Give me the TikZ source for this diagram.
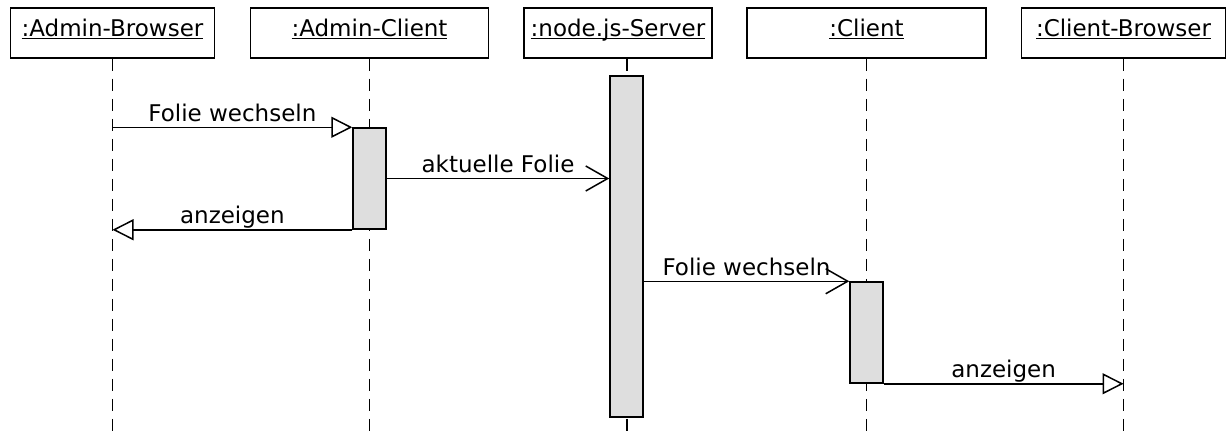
\documentclass[tikz,border=0pt]{standalone}
\usepackage{fontspec}
\setmainfont{DejaVu Sans}
\usetikzlibrary{arrows.meta}

\newcommand{\objname}[1]{\underline{\smash{#1}}}

\begin{document}
\begin{tikzpicture}[
  x=1pt,y=-1pt,
  font=\fontsize{23}{26}\selectfont,
  object/.style={draw,line width=1.5pt,rectangle,minimum height=50pt,inner sep=0pt,text height=17pt,text depth=10pt},
  activation/.style={draw,line width=1.5pt,rectangle,fill=black!13,minimum width=33pt,inner sep=0pt},
  lifeline/.style={line width=1.4pt,dash pattern=on 12pt off 8pt},
  syncMsg/.style={-{Triangle[open,length=21pt,width=21pt]},line width=1.5pt},
  asyncMsg/.style={-{Straight Barb[length=22pt,width=25pt]},line width=1.5pt},
  msgLabel/.style={anchor=base,yshift=6pt,inner sep=0pt}]

  \useasboundingbox (0,0) rectangle (1226,436);
  \coordinate (bottom) at (0,436);

  % objects
  \node[object,minimum width=204pt] (oAdminBrowser) at (112.5,33) {\objname{:Admin-Browser}};
  \node[object,minimum width=238pt] (oAdminClient) at (369.5,33) {\objname{:Admin-Client}};
  \node[object,minimum width=188pt] (oServer) at (618,33) {\objname{:node.js-Server}};
  \node[object,minimum width=239pt] (oClient) at (866.5,33) {\objname{:Client}};
  \node[object,minimum width=204pt] (oClientBrowser) at (1123.5,33) {\objname{:Client-Browser}};

  % lifelines
  \draw[lifeline] (oAdminBrowser.south) -- (oAdminBrowser.south |- bottom);
  \draw[lifeline] (oAdminClient.south) -- (oAdminClient.south |- bottom);
  \draw[lifeline] (oServer.south -| 627,0) -- (627,436);
  \draw[lifeline] (oClient.south) -- (oClient.south |- bottom);
  \draw[lifeline] (oClientBrowser.south) -- (oClientBrowser.south |- bottom);

  % activations
  \node[activation,minimum height=101pt] (aAdminClient) at (369.5,178.5) {};
  \node[activation,minimum height=341pt] (aServer) at (626.5,246.5) {};
  \node[activation,minimum height=101pt] (aClient) at (866.5,332.5) {};

  % messages
  \draw[syncMsg] (oAdminBrowser |- aAdminClient.north west) -- (aAdminClient.north west)
    node[msgLabel,midway] {Folie wechseln};
  \draw[asyncMsg] (aAdminClient.east) -- (aAdminClient.east -| aServer.west)
    node[msgLabel,midway] {aktuelle Folie};
  \draw[syncMsg] (aAdminClient.south west) -- (oAdminBrowser |- aAdminClient.south west)
    node[msgLabel,midway] {anzeigen};
  \draw[asyncMsg] (aServer.east |- aClient.north west) -- (aClient.north west)
    node[msgLabel,midway] {Folie wechseln};
  \draw[syncMsg] (aClient.south east) -- (oClientBrowser |- aClient.south east)
    node[msgLabel,midway] {anzeigen};

\end{tikzpicture}
\end{document}
